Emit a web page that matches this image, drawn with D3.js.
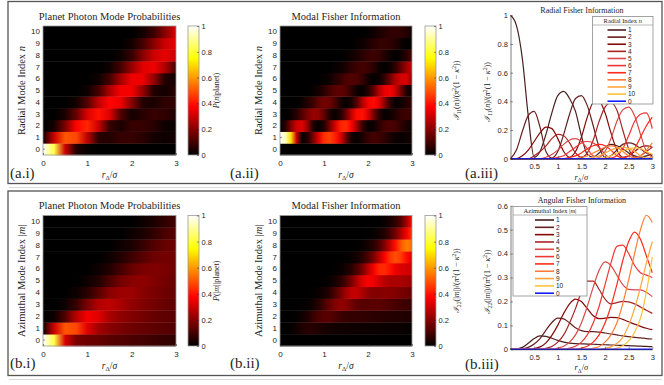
<!DOCTYPE html>
<html>
<head>
<meta charset="utf-8">
<script src="https://cdn.jsdelivr.net/npm/d3@7"></script>
<style>
  body { margin: 0; background: #fff; }
  svg { display: block; }
</style>
</head>
<body>
<div id="chart"></div>
<script>
// r_Delta / sigma sample points
const rGridP = [0, 0.25, 0.5, 0.75, 1, 1.25, 1.5, 1.75, 2, 2.25, 2.5, 2.75, 3];
const rGridI = [0, 0.125, 0.25, 0.375, 0.5, 0.625, 0.75, 0.875, 1, 1.125, 1.25, 1.375, 1.5,
  1.625, 1.75, 1.875, 2, 2.125, 2.25, 2.375, 2.5, 2.625, 2.75, 2.875, 3];
const modeIndex = [0, 1, 2, 3, 4, 5, 6, 7, 8, 9, 10];
const legendOrder = [1, 2, 3, 4, 5, 6, 7, 8, 9, 10, 0];

const heatXTicks = [0, 1, 2, 3];
const lineXTicks = [0.5, 1, 1.5, 2, 2.5, 3];
const colorTicks = [0, 0.2, 0.4, 0.6, 0.8, 1];
const radialYTicks = [0, 0.2, 0.4, 0.6, 0.8, 1];
const angularYTicks = [0, 0.1, 0.2, 0.3, 0.4, 0.5, 0.6];

// P(n|planet), rows n = 0..10, on rGridP
const pRadial = [
  [1.00, 0.82, 0.30, 0.05, 0.01, 0, 0, 0, 0, 0, 0, 0, 0],
  [0.02, 0.30, 0.50, 0.48, 0.28, 0.06, 0.05, 0.08, 0.08, 0.06, 0.03, 0.02, 0.03],
  [0, 0.03, 0.18, 0.38, 0.43, 0.30, 0.08, 0.04, 0.08, 0.08, 0.06, 0.02, 0.02],
  [0, 0, 0.04, 0.15, 0.32, 0.40, 0.33, 0.12, 0.03, 0.06, 0.08, 0.07, 0.04],
  [0, 0, 0, 0.03, 0.12, 0.28, 0.38, 0.35, 0.20, 0.05, 0.04, 0.07, 0.07],
  [0, 0, 0, 0, 0.02, 0.10, 0.25, 0.36, 0.36, 0.22, 0.05, 0.03, 0.06],
  [0, 0, 0, 0, 0, 0.02, 0.10, 0.24, 0.35, 0.35, 0.22, 0.05, 0.03],
  [0, 0, 0, 0, 0, 0, 0.02, 0.10, 0.22, 0.33, 0.35, 0.26, 0.10],
  [0, 0, 0, 0, 0, 0, 0, 0.02, 0.08, 0.20, 0.30, 0.34, 0.30],
  [0, 0, 0, 0, 0, 0, 0, 0, 0.03, 0.10, 0.20, 0.30, 0.34],
  [0, 0, 0, 0, 0, 0, 0, 0, 0, 0.03, 0.09, 0.20, 0.32]
];

// I_11(n)/(pi^2(1-k^2)), rows n = 0..10, on rGridI
const iRadial = [
  [0, 0, 0, 0, 0, 0, 0, 0, 0, 0, 0, 0, 0, 0, 0, 0, 0, 0, 0, 0, 0, 0, 0, 0, 0],
  [1.00, 0.93, 0.70, 0.30, 0.01, 0.05, 0.17, 0.32, 0.44, 0.47, 0.42, 0.33, 0.16, 0.03, 0.01, 0.04, 0.08, 0.10, 0.09, 0.07, 0.04, 0.02, 0.01, 0.02, 0.03],
  [0, 0.06, 0.19, 0.30, 0.33, 0.22, 0.05, 0.005, 0.05, 0.17, 0.31, 0.42, 0.44, 0.37, 0.23, 0.08, 0.01, 0.02, 0.06, 0.10, 0.11, 0.10, 0.07, 0.04, 0.02],
  [0, 0, 0.02, 0.06, 0.12, 0.18, 0.22, 0.21, 0.14, 0.05, 0.01, 0.05, 0.15, 0.29, 0.39, 0.40, 0.32, 0.18, 0.06, 0.01, 0.02, 0.05, 0.08, 0.09, 0.08],
  [0, 0, 0, 0, 0.02, 0.05, 0.09, 0.14, 0.17, 0.16, 0.11, 0.04, 0.01, 0.04, 0.13, 0.26, 0.36, 0.39, 0.34, 0.20, 0.07, 0.01, 0.02, 0.05, 0.08],
  [0, 0, 0, 0, 0, 0, 0.01, 0.03, 0.06, 0.10, 0.13, 0.14, 0.12, 0.07, 0.02, 0.01, 0.05, 0.14, 0.26, 0.34, 0.36, 0.30, 0.17, 0.05, 0.01],
  [0, 0, 0, 0, 0, 0, 0, 0, 0.01, 0.02, 0.05, 0.08, 0.11, 0.12, 0.11, 0.08, 0.03, 0.005, 0.02, 0.07, 0.16, 0.26, 0.31, 0.32, 0.21],
  [0, 0, 0, 0, 0, 0, 0, 0, 0, 0, 0.01, 0.02, 0.04, 0.07, 0.09, 0.10, 0.09, 0.06, 0.02, 0.005, 0.02, 0.07, 0.15, 0.23, 0.29],
  [0, 0, 0, 0, 0, 0, 0, 0, 0, 0, 0, 0, 0.01, 0.02, 0.04, 0.06, 0.08, 0.09, 0.08, 0.05, 0.02, 0.005, 0.02, 0.06, 0.11],
  [0, 0, 0, 0, 0, 0, 0, 0, 0, 0, 0, 0, 0, 0, 0.01, 0.02, 0.04, 0.06, 0.075, 0.08, 0.07, 0.05, 0.02, 0.005, 0.01],
  [0, 0, 0, 0, 0, 0, 0, 0, 0, 0, 0, 0, 0, 0, 0, 0, 0.01, 0.02, 0.04, 0.055, 0.07, 0.075, 0.07, 0.05, 0.03]
];

// P(|m||planet), rows |m| = 0..10, on rGridP
const pAzim = [
  [1.00, 0.82, 0.32, 0.18, 0.16, 0.15, 0.13, 0.12, 0.11, 0.10, 0.09, 0.08, 0.07],
  [0.02, 0.30, 0.50, 0.48, 0.33, 0.24, 0.20, 0.18, 0.16, 0.15, 0.14, 0.13, 0.12],
  [0, 0.02, 0.12, 0.27, 0.36, 0.33, 0.25, 0.21, 0.19, 0.17, 0.15, 0.14, 0.13],
  [0, 0, 0.02, 0.08, 0.18, 0.26, 0.28, 0.25, 0.21, 0.19, 0.17, 0.15, 0.14],
  [0, 0, 0, 0.02, 0.06, 0.13, 0.20, 0.23, 0.23, 0.20, 0.18, 0.16, 0.15],
  [0, 0, 0, 0, 0.02, 0.05, 0.11, 0.17, 0.20, 0.21, 0.19, 0.17, 0.15],
  [0, 0, 0, 0, 0, 0.02, 0.05, 0.10, 0.15, 0.18, 0.19, 0.18, 0.16],
  [0, 0, 0, 0, 0, 0, 0.02, 0.05, 0.09, 0.13, 0.16, 0.17, 0.16],
  [0, 0, 0, 0, 0, 0, 0, 0.02, 0.04, 0.08, 0.12, 0.15, 0.16],
  [0, 0, 0, 0, 0, 0, 0, 0, 0.02, 0.04, 0.07, 0.11, 0.13],
  [0, 0, 0, 0, 0, 0, 0, 0, 0, 0.02, 0.04, 0.07, 0.10]
];

// I_22(|m|)/(pi^2(1-k^2)), rows |m| = 0..10, on rGridI
const iAzim = [
  [0, 0, 0, 0, 0, 0, 0, 0, 0, 0, 0, 0, 0, 0, 0, 0, 0, 0, 0, 0, 0, 0, 0, 0, 0],
  [0, 0.001, 0.008, 0.025, 0.045, 0.056, 0.054, 0.046, 0.037, 0.030, 0.026, 0.024, 0.023, 0.022, 0.021, 0.020, 0.019, 0.018, 0.017, 0.016, 0.015, 0.014, 0.013, 0.012, 0.011],
  [0, 0, 0.002, 0.008, 0.022, 0.045, 0.080, 0.112, 0.130, 0.127, 0.110, 0.090, 0.078, 0.074, 0.074, 0.072, 0.068, 0.064, 0.060, 0.056, 0.053, 0.050, 0.048, 0.045, 0.043],
  [0, 0, 0, 0, 0.003, 0.010, 0.027, 0.058, 0.100, 0.150, 0.190, 0.210, 0.200, 0.170, 0.140, 0.128, 0.130, 0.133, 0.132, 0.125, 0.115, 0.105, 0.096, 0.088, 0.082],
  [0, 0, 0, 0, 0, 0, 0.004, 0.012, 0.030, 0.060, 0.110, 0.170, 0.240, 0.285, 0.285, 0.250, 0.210, 0.190, 0.195, 0.200, 0.198, 0.190, 0.177, 0.163, 0.150],
  [0, 0, 0, 0, 0, 0, 0, 0, 0.005, 0.013, 0.030, 0.060, 0.110, 0.180, 0.260, 0.330, 0.365, 0.350, 0.310, 0.270, 0.250, 0.248, 0.248, 0.238, 0.220],
  [0, 0, 0, 0, 0, 0, 0, 0, 0, 0, 0.005, 0.013, 0.030, 0.060, 0.110, 0.180, 0.270, 0.360, 0.430, 0.435, 0.400, 0.350, 0.320, 0.310, 0.300],
  [0, 0, 0, 0, 0, 0, 0, 0, 0, 0, 0, 0, 0.005, 0.013, 0.030, 0.060, 0.110, 0.180, 0.270, 0.370, 0.450, 0.490, 0.460, 0.390, 0.320],
  [0, 0, 0, 0, 0, 0, 0, 0, 0, 0, 0, 0, 0, 0, 0.005, 0.012, 0.030, 0.060, 0.110, 0.190, 0.290, 0.400, 0.500, 0.560, 0.530],
  [0, 0, 0, 0, 0, 0, 0, 0, 0, 0, 0, 0, 0, 0, 0, 0, 0.004, 0.010, 0.025, 0.050, 0.100, 0.170, 0.260, 0.360, 0.450],
  [0, 0, 0, 0, 0, 0, 0, 0, 0, 0, 0, 0, 0, 0, 0, 0, 0, 0, 0.005, 0.015, 0.035, 0.070, 0.130, 0.240, 0.385]
];

// line colour for each mode index 0..10
const modeColors = ["#1a1aff", "#4a1f1f", "#662020", "#850808", "#a82424", "#d84a4a",
  "#ee3535", "#ff2a1a", "#ff7b35", "#ffa53a", "#ffc23a"];

const serif = "'Liberation Serif','Times New Roman',serif";
const sans = "'Liberation Sans',Arial,sans-serif";
const ink = "#262626";

// MATLAB "hot"
const hot = d3.scaleLinear()
  .domain([0, 0.375, 0.75, 1])
  .range(["#000000", "#ff0000", "#ffff00", "#ffffff"])
  .clamp(true);

const svg = d3.select("#chart").append("svg")
  .attr("width", 664)
  .attr("height", 385);
const defs = svg.append("defs");

// panel frames
[[1.5, 183.5], [191, 375.5]].forEach(([t, b]) => {
  svg.append("line").attr("x1", 9).attr("x2", 662).attr("y1", b + 4).attr("y2", b + 4)
    .attr("stroke", "#d9d9d9").attr("stroke-width", 1);
  svg.append("rect")
    .attr("x", 8).attr("y", t)
    .attr("width", 654).attr("height", b - t)
    .attr("fill", "none").attr("stroke", "#555").attr("stroke-width", 1.3);
});

// text with italic / sub / sup parts
function mathText(sel, parts, size) {
  let shift = 0;
  parts.forEach(([t, k]) => {
    const s = k === "sub" ? size * 0.3 : k === "sup" ? -size * 0.4 : 0;
    sel.append("tspan")
      .attr("dy", s - shift)
      .attr("font-size", (k === "sub" || k === "sup") ? size * 0.7 : size)
      .attr("font-style", k === "i" ? "italic" : null)
      .text(t);
    shift = s;
  });
  return sel;
}

function rotLabel(x, y, parts, size) {
  const t = svg.append("text")
    .attr("transform", `translate(${x + size * 0.35},${y}) rotate(-90)`)
    .attr("text-anchor", "middle")
    .attr("font-family", serif)
    .attr("fill", ink);
  return mathText(t, parts, size);
}

function plainText(x, y, str, size, anchor) {
  return svg.append("text")
    .attr("x", x).attr("y", y)
    .attr("text-anchor", anchor || "middle")
    .attr("font-family", serif)
    .attr("font-size", size)
    .attr("fill", ink)
    .text(str);
}

const xLabelParts = [["r", "i"], ["Δ", "sub"], ["/", ""], ["σ", "i"]];

function styleAxis(g, size) {
  g.select(".domain").remove();
  g.selectAll("text").attr("font-family", sans).attr("font-size", size).attr("fill", ink);
  g.selectAll(".tick line").attr("stroke", ink).attr("stroke-width", 0.5);
}

function heatmap(o) {
  const x = d3.scaleLinear().domain([0, 3]).range([o.left, o.right]);
  const y = d3.scaleBand().domain(modeIndex).range([o.bottom, o.top]);
  const g = svg.append("g");

  o.values.forEach((row, k) => {
    const id = `${o.id}-row${k}`;
    const grad = defs.append("linearGradient")
      .attr("id", id)
      .attr("gradientUnits", "userSpaceOnUse")
      .attr("x1", x(0)).attr("x2", x(3)).attr("y1", 0).attr("y2", 0);
    row.forEach((v, i) => {
      grad.append("stop")
        .attr("offset", o.grid[i] / 3)
        .attr("stop-color", hot(v));
    });
    g.append("rect")
      .attr("x", x(0))
      .attr("y", y(modeIndex[k]))
      .attr("width", x(3) - x(0))
      .attr("height", y.bandwidth() + 0.4)
      .attr("fill", `url(#${id})`);
  });

  g.append("rect")
    .attr("x", o.left).attr("y", o.top)
    .attr("width", o.right - o.left).attr("height", o.bottom - o.top)
    .attr("fill", "none").attr("stroke", "#9a9a9a").attr("stroke-width", 0.8);

  const ya = svg.append("g")
    .attr("transform", `translate(${o.left},0)`)
    .call(d3.axisLeft(y).tickSizeInner(-2).tickSizeOuter(0).tickPadding(3));
  styleAxis(ya, 8);

  const xa = svg.append("g")
    .attr("transform", `translate(0,${o.bottom})`)
    .call(d3.axisBottom(x).tickValues(heatXTicks).tickFormat(d3.format("~g"))
      .tickSizeInner(-2).tickSizeOuter(0).tickPadding(5.5));
  styleAxis(xa, 8);

  // colour bar
  const cbId = `${o.id}-cb`;
  const cg = defs.append("linearGradient")
    .attr("id", cbId)
    .attr("x1", 0).attr("x2", 0).attr("y1", 1).attr("y2", 0);
  [0, 0.375, 0.75, 1].forEach(v => cg.append("stop").attr("offset", v).attr("stop-color", hot(v)));
  svg.append("rect")
    .attr("x", o.cbLeft).attr("y", o.top)
    .attr("width", o.cbRight - o.cbLeft).attr("height", o.bottom - o.top)
    .attr("fill", `url(#${cbId})`)
    .attr("stroke", "#9a9a9a").attr("stroke-width", 0.8);
  const cy = d3.scaleLinear().domain([0, 1]).range([o.bottom, o.top]);
  const ca = svg.append("g")
    .attr("transform", `translate(${o.cbRight},0)`)
    .call(d3.axisRight(cy).tickValues(colorTicks).tickFormat(d3.format("~g"))
      .tickSizeInner(-2).tickSizeOuter(0).tickPadding(2.5));
  styleAxis(ca, 7.5);

  // texts
  const cx = (o.left + o.right) / 2;
  const cyMid = (o.top + o.bottom) / 2;
  plainText(cx, o.top - 6.5, o.title, 10.5);
  rotLabel(o.yLabelX, cyMid, o.yLabel, 10.5);
  rotLabel(o.cbLabelX, cyMid, o.cbLabel, 8);
  const xl = svg.append("text")
    .attr("x", cx).attr("y", o.bottom + 22.5)
    .attr("text-anchor", "middle")
    .attr("font-family", serif).attr("fill", ink);
  mathText(xl, xLabelParts, 9.5);
}

function linePlot(o) {
  const x = d3.scaleLinear().domain([0, 3]).range([o.left, o.right]);
  const y = d3.scaleLinear().domain([0, o.yMax]).range([o.bottom, o.top]);
  const line = d3.line()
    .x((d, i) => x(rGridI[i]))
    .y(d => y(d))
    .curve(d3.curveMonotoneX);

  const order = [1, 2, 3, 4, 5, 6, 7, 8, 9, 10, 0];
  svg.append("g")
    .selectAll("path")
    .data(order)
    .join("path")
    .attr("d", k => line(o.values[k]))
    .attr("fill", "none")
    .attr("stroke", k => modeColors[k])
    .attr("stroke-width", k => k === 0 ? 1.6 : 1.2);

  const ya = svg.append("g")
    .attr("transform", `translate(${o.left},0)`)
    .call(d3.axisLeft(y).tickValues(o.yTicks).tickFormat(d3.format("~g"))
      .tickSizeInner(-2.5).tickSizeOuter(0).tickPadding(2.5));
  ya.selectAll("text").attr("font-family", sans).attr("font-size", 7.5).attr("fill", ink);
  ya.selectAll(".tick line").attr("stroke", ink).attr("stroke-width", 0.5);
  ya.select(".domain").attr("stroke", ink).attr("stroke-width", 0.6);

  const xa = svg.append("g")
    .attr("transform", `translate(0,${o.bottom})`)
    .call(d3.axisBottom(x).tickValues(lineXTicks).tickFormat(d3.format("~g"))
      .tickSizeInner(-2.5).tickSizeOuter(0).tickPadding(5));
  xa.selectAll("text").attr("font-family", sans).attr("font-size", 7.5).attr("fill", ink);
  xa.selectAll(".tick line").attr("stroke", ink).attr("stroke-width", 0.5);
  xa.select(".domain").attr("stroke", ink).attr("stroke-width", 0.6);

  plainText((o.left + o.right) / 2 + 0.5, o.top - 2.5, o.title, 8);
  rotLabel(o.yLabelX, o.yLabelY, o.yLabel, 8);
  const xl = svg.append("text")
    .attr("x", (o.left + o.right) / 2).attr("y", o.bottom + 21)
    .attr("text-anchor", "middle")
    .attr("font-family", serif).attr("fill", ink);
  mathText(xl, xLabelParts, 8.5);

  // legend
  const L = o.legend;
  const lg = svg.append("g");
  lg.append("rect")
    .attr("x", L.x0).attr("y", L.y0)
    .attr("width", L.x1 - L.x0).attr("height", L.y1 - L.y0)
    .attr("fill", "#fff").attr("stroke", "#8c8c8c").attr("stroke-width", 0.8);
  lg.append("line")
    .attr("x1", L.x0).attr("x2", L.x1)
    .attr("y1", L.y0 + 8.5).attr("y2", L.y0 + 8.5)
    .attr("stroke", "#8c8c8c").attr("stroke-width", 0.6);
  const lt = lg.append("text")
    .attr("x", (L.x0 + L.x1) / 2).attr("y", L.y0 + 6.5)
    .attr("text-anchor", "middle")
    .attr("font-family", serif).attr("fill", ink);
  mathText(lt, L.title, 6.5);
  const ly = d3.scalePoint().domain(legendOrder).range([L.y0 + 13.5, L.y1 - 2.8]);
  legendOrder.forEach(k => {
    lg.append("line")
      .attr("x1", L.lineX0).attr("x2", L.lineX1)
      .attr("y1", ly(k)).attr("y2", ly(k))
      .attr("stroke", modeColors[k]).attr("stroke-width", 1.6);
    lg.append("text")
      .attr("x", L.lineX1 + 2).attr("y", ly(k) + 2.3)
      .attr("font-family", sans).attr("font-size", 6.5).attr("fill", ink)
      .text(k);
  });
}

const fisherLabelRadial = [["ℐ", "i"], ["11", "sub"], ["(", ""], ["n", "i"], [")/(", ""], ["π", "i"],
  ["2", "sup"], ["(1 − ", ""], ["κ", "i"], ["2", "sup"], ["))", ""]];
const fisherLabelAngular = [["ℐ", "i"], ["22", "sub"], ["(|", ""], ["m", "i"], ["|)/(", ""], ["π", "i"],
  ["2", "sup"], ["(1 − ", ""], ["κ", "i"], ["2", "sup"], ["))", ""]];

// (a.i)
heatmap({
  id: "ai", values: pRadial, grid: rGridP,
  left: 43, right: 176, top: 26, bottom: 155, cbLeft: 188, cbRight: 199,
  title: "Planet Photon Mode Probabilities",
  yLabel: [["Radial Mode Index ", ""], ["n", "i"]], yLabelX: 21.5,
  cbLabel: [["P", "i"], ["(", ""], ["n", "i"], ["|planet)", ""]], cbLabelX: 216
});
// (a.ii)
heatmap({
  id: "aii", values: iRadial, grid: rGridI,
  left: 280, right: 412, top: 26, bottom: 155, cbLeft: 425, cbRight: 436,
  title: "Modal Fisher Information",
  yLabel: [["Radial Mode Index ", ""], ["n", "i"]], yLabelX: 258.5,
  cbLabel: fisherLabelRadial, cbLabelX: 456
});
// (b.i)
heatmap({
  id: "bi", values: pAzim, grid: rGridP,
  left: 43, right: 176, top: 215.5, bottom: 346, cbLeft: 188, cbRight: 199,
  title: "Planet Photon Mode Probabilities",
  yLabel: [["Azimuthal Mode Index |", ""], ["m", "i"], ["|", ""]], yLabelX: 21,
  cbLabel: [["P", "i"], ["(|", ""], ["m", "i"], ["||planet)", ""]], cbLabelX: 216
});
// (b.ii)
heatmap({
  id: "bii", values: iAzim, grid: rGridI,
  left: 280, right: 412, top: 215.5, bottom: 346, cbLeft: 425, cbRight: 436,
  title: "Modal Fisher Information",
  yLabel: [["Azimuthal Mode Index |", ""], ["m", "i"], ["|", ""]], yLabelX: 258.5,
  cbLabel: fisherLabelAngular, cbLabelX: 456
});
// (a.iii)
linePlot({
  values: iRadial, yMax: 1, yTicks: radialYTicks,
  left: 510.5, right: 652.3, top: 15.3, bottom: 158.7,
  title: "Radial Fisher Information",
  yLabel: fisherLabelRadial, yLabelX: 487, yLabelY: 92,
  legend: { x0: 592.5, x1: 653, y0: 16.5, y1: 104, lineX0: 607.5, lineX1: 626,
    title: [["Radial Index ", ""], ["n", "i"]] }
});
// (b.iii)
linePlot({
  values: iAzim, yMax: 0.6, yTicks: angularYTicks,
  left: 510.5, right: 652.3, top: 205.7, bottom: 349.3,
  title: "Angular Fisher Information",
  yLabel: fisherLabelAngular, yLabelX: 487, yLabelY: 282,
  legend: { x0: 513, x1: 587, y0: 206.5, y1: 296, lineX0: 535, lineX1: 554,
    title: [["Azimuthal Index |", ""], ["m", "i"], ["|", ""]] }
});

// panel tags
[["(a.i)", 10, 177.5], ["(a.ii)", 230, 177.5], ["(a.iii)", 465, 177.5],
 ["(b.i)", 10, 368], ["(b.ii)", 230, 368], ["(b.iii)", 465, 369]].forEach(([t, x, y]) => {
  plainText(x, y, t, 15, "start");
});
</script>
</body>
</html>
